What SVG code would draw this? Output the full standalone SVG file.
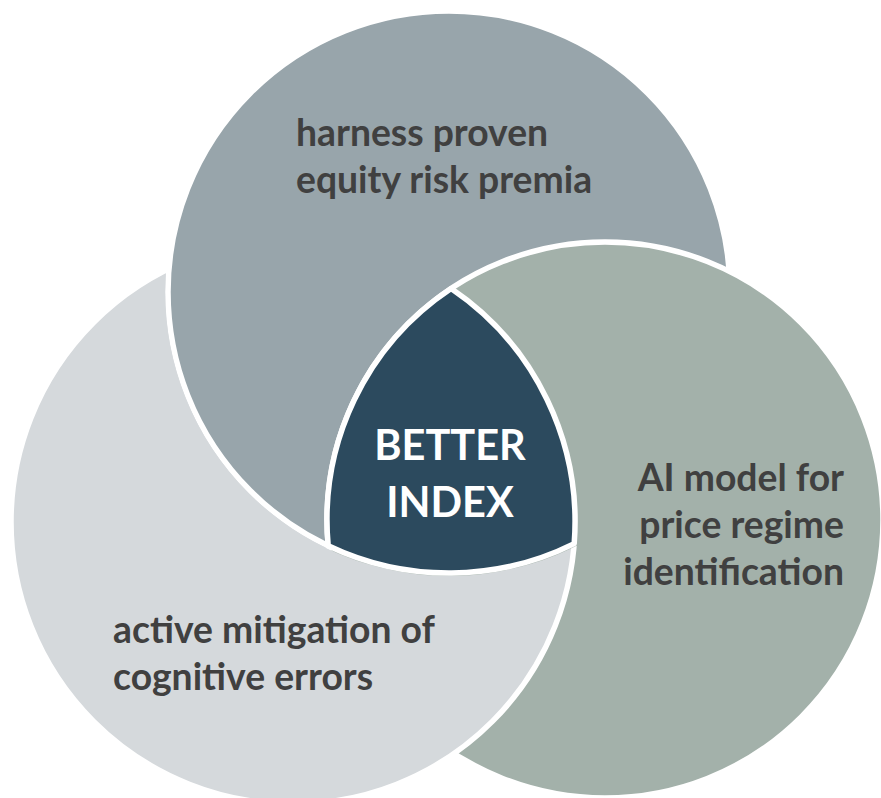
<svg xmlns="http://www.w3.org/2000/svg" width="881" height="798" viewBox="0 0 881 798">
  <style>
    .ring { stroke: #ffffff; stroke-width: 5.5; }
    .c-left { fill: #d5d9dc; }
    .c-top { fill: #98a5ab; }
    .c-right { fill: #a3b1aa; }
    .c-core { fill: #2c4a5e; stroke: #ffffff; stroke-width: 5.5; stroke-linejoin: round; }
    .label { font-family: "Lato", "Liberation Sans", sans-serif; font-weight: 700; font-size: 37.3px; fill: #404040; }
    .core-label { font-family: "Lato", "Liberation Sans", sans-serif; font-weight: 700; font-size: 41.5px; fill: #ffffff; text-anchor: middle; }
  </style>
  <defs>
    <circle id="circle-left" cx="293" cy="522" r="282"/>
    <circle id="circle-top" cx="449" cy="292" r="281"/>
    <circle id="circle-right" cx="605" cy="520" r="278"/>
    <!-- hides everything inside the top circle (plus half its outline) -->
    <mask id="outside-top" maskUnits="userSpaceOnUse" x="0" y="0" width="881" height="798">
      <rect width="881" height="798" fill="#ffffff"/>
      <circle cx="449" cy="292" r="284" fill="#000000"/>
    </mask>
  </defs>

  <rect width="881" height="798" fill="#ffffff"/>

  <!-- circles overlap cyclically: top over left, right over top, left over right -->
  <g id="node-left">
    <use href="#circle-left" class="ring c-left"/>
  </g>

  <g id="node-top">
    <use href="#circle-top" class="ring c-top"/>
    <text class="label" x="296" y="146">harness proven</text>
    <text class="label" x="296" y="193">equity risk premia</text>
  </g>

  <g id="node-right">
    <use href="#circle-right" class="ring c-right"/>
    <text class="label" x="844" y="491" text-anchor="end">AI model for</text>
    <text class="label" x="844" y="538" text-anchor="end">price regime</text>
    <text class="label" x="844" y="585" text-anchor="end">identification</text>
  </g>

  <g id="node-left-front">
    <use href="#circle-left" class="ring c-left" mask="url(#outside-top)"/>
    <text class="label" x="113" y="643">active mitigation of</text>
    <text class="label" x="113" y="690">cognitive errors</text>
  </g>

  <!-- common intersection of the three circles -->
  <g id="node-center">
    <path class="c-core" d="M 451.1 288.5 A 278 278 0 0 0 328.2 545.7 A 281 281 0 0 0 574.2 543.6 A 282 282 0 0 0 451.1 288.5 Z"/>
    <text class="core-label" x="450" y="460">BETTER</text>
    <text class="core-label" x="450" y="517">INDEX</text>
  </g>
</svg>
